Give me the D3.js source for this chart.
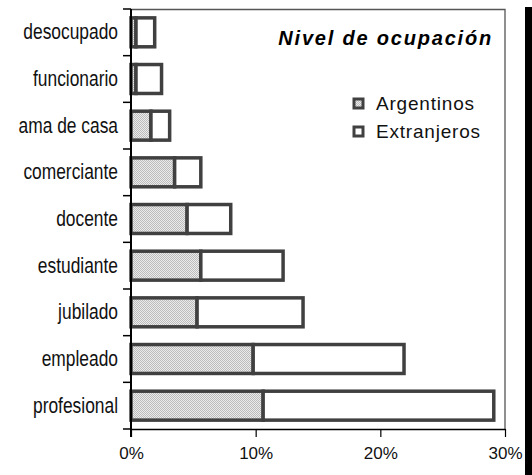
<!DOCTYPE html>
<html>
<head>
<meta charset="utf-8">
<script src="https://cdn.jsdelivr.net/npm/d3@7"></script>
<style>
  body { margin: 0; background: #fff; }
  svg { display: block; }
  text { font-family: "Liberation Sans", Arial, Helvetica, sans-serif; fill: #111; }
  .cat text { font-size: 22px; }
  .x-axis text { font-size: 17px; }
</style>
</head>
<body>
<div id="chart-area"><svg></svg></div>
<script>
const categories = ["desocupado", "funcionario", "ama de casa", "comerciante", "docente",
    "estudiante", "jubilado", "empleado", "profesional"];
const argentinos = [0.4, 0.4, 1.6, 3.5, 4.5, 5.6, 5.3, 9.8, 10.6];
const extranjeros = [1.5, 2.05, 1.5, 2.1, 3.5, 6.6, 8.5, 12.1, 18.5];
const xTicks = [0, 10, 20, 30];
const seriesNames = ["Argentinos", "Extranjeros"];

const chartSize = { width: 532, height: 475 };
const margin = { left: 131, right: 27, top: 9, bottom: 46 };
const width = chartSize.width - margin.left - margin.right;
const height = chartSize.height - margin.top - margin.bottom;

const barStroke = "#404040";
const narrow = 0.79; // the labels are set in a condensed face

const svg = d3.select("#chart-area svg")
    .attr("width", chartSize.width)
    .attr("height", chartSize.height);

// dithered light gray like the original print fill
const pat = svg.append("defs").append("pattern")
    .attr("id", "dots")
    .attr("width", 2).attr("height", 2)
    .attr("patternUnits", "userSpaceOnUse");
pat.append("rect").attr("width", 2).attr("height", 2).attr("fill", "#ebebeb");
pat.append("rect").attr("width", 1).attr("height", 1).attr("fill", "#bcbcbc");
pat.append("rect").attr("x", 1).attr("y", 1).attr("width", 1).attr("height", 1).attr("fill", "#bcbcbc");

const rows = categories.map((c, i) => ({ name: c, arg: argentinos[i], ext: extranjeros[i] }));

const x = d3.scaleLinear().domain([0, 30]).range([0, width]);
const y = d3.scaleBand()
    .domain(categories)
    .range([0, height])
    .paddingInner(0.38)
    .paddingOuter(0.19);

const g = svg.append("g").attr("transform", `translate(${margin.left},${margin.top})`);

// frame: top and right edge of the plot area
g.append("path")
    .attr("d", `M0,0.5H${width}V${height}`)
    .attr("fill", "none")
    .attr("stroke", "#555")
    .attr("stroke-width", 1.3);

// bars
const bars = g.selectAll(".row").data(rows).enter().append("g").attr("class", "row");

bars.append("rect")
    .attr("x", x(0))
    .attr("y", d => y(d.name))
    .attr("width", d => x(d.arg) - x(0))
    .attr("height", y.bandwidth())
    .attr("fill", "url(#dots)")
    .attr("stroke", barStroke)
    .attr("stroke-width", 3.5);

bars.append("rect")
    .attr("x", d => x(d.arg))
    .attr("y", d => y(d.name))
    .attr("width", d => x(d.arg + d.ext) - x(d.arg))
    .attr("height", y.bandwidth())
    .attr("fill", "#fff")
    .attr("stroke", barStroke)
    .attr("stroke-width", 3.5);

// category axis: labels centred on bands, ticks on band boundaries
const yAxis = g.append("g").attr("class", "cat")
    .call(d3.axisLeft(y).tickSize(0));
yAxis.select(".domain").remove();
yAxis.selectAll("text")
    .attr("x", -13 / narrow)
    .attr("transform", `scale(${narrow},1)`);

g.selectAll(".cat-tick")
    .data(d3.range(categories.length + 1))
    .enter().append("line")
    .attr("class", "cat-tick")
    .attr("x1", -8).attr("x2", 0)
    .attr("y1", i => i * y.step())
    .attr("y2", i => i * y.step())
    .attr("stroke", "#000")
    .attr("stroke-width", 1.5);

g.append("line")
    .attr("x1", 0).attr("x2", 0)
    .attr("y1", 0).attr("y2", height + 8)
    .attr("stroke", "#000")
    .attr("stroke-width", 2);

const xAxis = g.append("g").attr("class", "x-axis")
    .attr("transform", `translate(0,${height})`)
    .call(d3.axisBottom(x).tickValues(xTicks).tickFormat(d => d + "%").tickSize(8).tickSizeOuter(0).tickPadding(10));
xAxis.select(".domain").attr("stroke-width", 1.5);
xAxis.selectAll(".tick line").attr("stroke-width", 1.2);

// title
svg.append("text")
    .attr("x", 493).attr("y", 45)
    .attr("text-anchor", "end")
    .style("font-size", "20px")
    .style("font-weight", "bold")
    .style("font-style", "italic")
    .style("letter-spacing", "1.8px")
    .style("fill", "#000")
    .text("Nivel de ocupación");

// legend
const legend = svg.append("g").attr("transform", "translate(354,99)");
const items = legend.selectAll("g").data(seriesNames).enter().append("g")
    .attr("transform", (d, i) => `translate(0,${i * 28})`);
items.append("rect")
    .attr("width", 9).attr("height", 9)
    .attr("fill", (d, i) => i === 0 ? "url(#dots)" : "#fff")
    .attr("stroke", barStroke)
    .attr("stroke-width", 3);
items.append("text")
    .attr("x", 22).attr("y", 11)
    .style("font-size", "19px")
    .style("letter-spacing", "0.8px")
    .text(d => d);

// black edge on the right of the page
svg.append("rect")
    .attr("x", 525).attr("y", 7)
    .attr("width", 7).attr("height", chartSize.height - 7)
    .attr("fill", "#000");
</script>
</body>
</html>
